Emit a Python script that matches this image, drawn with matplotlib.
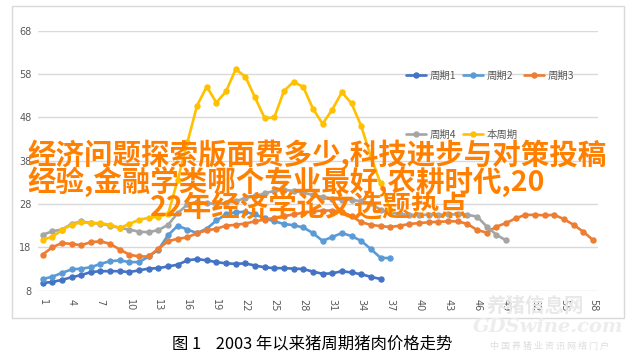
import matplotlib.pyplot as plt
from matplotlib.patches import Rectangle

# pig price per cycle
weeks = list(range(1, 59))
cycle1 = [9.8, 10.0, 10.5, 11.1, 11.6, 12.3, 12.5, 12.5, 12.5, 12.3,
          12.7, 13.1, 13.2, 13.6, 14.0, 15.0, 15.3, 15.0, 14.6, 14.3,
          14.2, 14.3, 13.8, 13.4, 13.2, 13.2, 13.1, 13.0, 12.4, 11.9,
          12.0, 12.5, 12.2, 11.8, 11.2, 10.7]
cycle2 = [10.7, 11.2, 12.1, 12.9, 13.1, 13.4, 14.2, 14.8, 15.0, 14.6,
          14.6, 15.9, 17.5, 20.8, 23.0, 22.1, 21.3, 22.3, 24.2, 25.6,
          26.1, 26.2, 25.6, 24.7, 24.0, 23.4, 23.1, 22.6, 21.3, 19.5,
          20.4, 21.3, 20.6, 19.5, 17.6, 15.6, 15.5]
cycle3 = [16.3, 18.0, 19.0, 18.8, 18.5, 19.2, 19.4, 18.8, 17.5, 16.3,
          15.9, 15.9, 17.7, 19.4, 20.0, 20.3, 21.3, 21.9, 22.3, 23.0,
          23.2, 23.5, 24.0, 24.4, 24.8, 25.2, 25.6, 26.0, 26.3, 26.5,
          26.5, 26.2, 25.2, 23.8, 23.2, 22.9, 22.7, 23.0, 23.4, 23.6,
          23.8, 23.9, 24.0, 24.0, 23.4, 22.0, 21.4, 22.8, 23.6, 24.7,
          25.5, 25.5, 25.4, 25.5, 24.5, 23.2, 21.6, 19.7]
cycle4 = [20.9, 21.7, 22.1, 23.4, 24.0, 23.6, 23.5, 23.0, 22.5, 22.1,
          21.6, 21.5, 22.0, 23.2, 25.9, 27.9, 28.5, 28.3, 27.9, 28.3,
          28.6, 29.4, 29.8, 30.5, 31.0, 31.3, 31.0, 30.6, 30.1, 29.6,
          29.2, 29.0, 29.0, 28.6, 28.2, 26.6, 26.0, 25.7, 25.5, 25.5,
          25.5, 25.5, 25.6, 25.6, 25.5, 25.1, 22.8, 20.9, 19.6]
current = [19.8, 20.4, 22.0, 23.2, 23.8, 23.6, 23.6, 23.2, 22.5, 23.4,
           24.4, 24.8, 25.1, 25.7, 33.6, 42.2, 50.7, 55.1, 51.4, 54.0,
           59.1, 57.4, 52.6, 47.8, 48.0, 54.1, 56.2, 55.0, 50.0, 46.5,
           49.8, 53.8, 51.2, 46.0, 38.9, 32.8, 26.7]

series_names = ["周期1", "周期2", "周期3", "周期4", "本周期"]
series_colors = ["#4472C4", "#5B9BD5", "#ED7D31", "#A5A5A5", "#FFC000"]
y_ticks = [8, 18, 28, 38, 48, 58, 68]

title_lines = ["经济问题探索版面费多少,科技进步与对策投稿",
               "经验,金融学类哪个专业最好,农耕时代,20",
               "22年经济学论文选题热点"]
caption = "图 1    2003 年以来猪周期猪肉价格走势"

cjk = ["Noto Sans CJK SC", "DejaVu Sans"]

fig = plt.figure(figsize=(6.34, 3.58), dpi=100)
W, H = 634, 358

# chart frame like the spreadsheet export
fig.patches.append(Rectangle((12 / W, 1 - 318 / H), 612 / W, 312 / H,
                             transform=fig.transFigure, fill=False,
                             ec="#d9d9d9", lw=1))

ax = fig.add_axes([0.0595, 0.188, 0.8834, 0.7263])
all_series = [cycle1, cycle2, cycle3, cycle4, current]
handles = []
for name, vals, col in zip(series_names, all_series, series_colors):
    h, = ax.plot(weeks[:len(vals)], vals, color=col, lw=1.9, marker="o",
                 markersize=3.6, label=name, solid_capstyle="round")
    handles.append(h)

ax.set_xlim(0.5, 58.5)
ax.set_ylim(8, 68)
ax.set_yticks(y_ticks)
ax.set_xticks(weeks[::3])
ax.set_xticklabels([str(w) for w in weeks[::3]], rotation=-90)
ax.tick_params(length=0, labelsize=7, labelcolor="#595959")
ax.tick_params(axis="y", pad=4.5)
ax.tick_params(axis="x", pad=6)
ax.yaxis.grid(True, color="#d9d9d9", lw=1)
ax.set_axisbelow(True)
for s in ax.spines.values():
    s.set_visible(False)

order = [0, 3, 1, 4, 2]
leg = ax.legend([handles[i] for i in order], [series_names[i] for i in order],
                ncol=3, frameon=False, loc="upper left",
                bbox_to_anchor=(406 / W, 1 - 71 / H),
                bbox_transform=fig.transFigure, borderpad=0, borderaxespad=0,
                handlelength=1.9, handletextpad=0.4, columnspacing=0.6,
                labelspacing=4.65, prop={"family": cjk, "size": 7.5})
for t in leg.get_texts():
    t.set_color("#595959")

# orange headline over the chart
fig.text(27 / W, 1 - 154.5 / H, title_lines[0], ha="left", va="center",
         fontsize=20.5, fontweight="bold", color="#ff8000", family=cjk)
fig.text(27 / W, 1 - 182 / H, title_lines[1], ha="left", va="center",
         fontsize=20.5, fontweight="bold", color="#ff8000", family=cjk)
fig.text(150 / W, 1 - 208 / H, title_lines[2], ha="left", va="center",
         fontsize=20.5, fontweight="bold", color="#ff8000", family=cjk)

fig.text(312 / W, 1 - 344 / H, caption, ha="center", va="center",
         fontsize=11.8, color="black", family=cjk)

# faint watermark
fig.text(535 / W, 1 - 306 / H, "养猪信息网", ha="center", va="center",
         fontsize=14, fontweight="bold", color="#e8e8e8", family=cjk)
fig.text(548 / W, 1 - 327 / H, "GDSwine.com", ha="center", va="center",
         fontsize=14, fontweight="bold", style="italic", color="#ededed",
         family=["DejaVu Serif"])
fig.text(550 / W, 1 - 346 / H, "中 国 养 猪 业 资 讯 网 络 门 户",
         ha="center", va="center", fontsize=6.5, color="#dddddd", family=cjk)

fig.savefig("out.png", dpi=100)
